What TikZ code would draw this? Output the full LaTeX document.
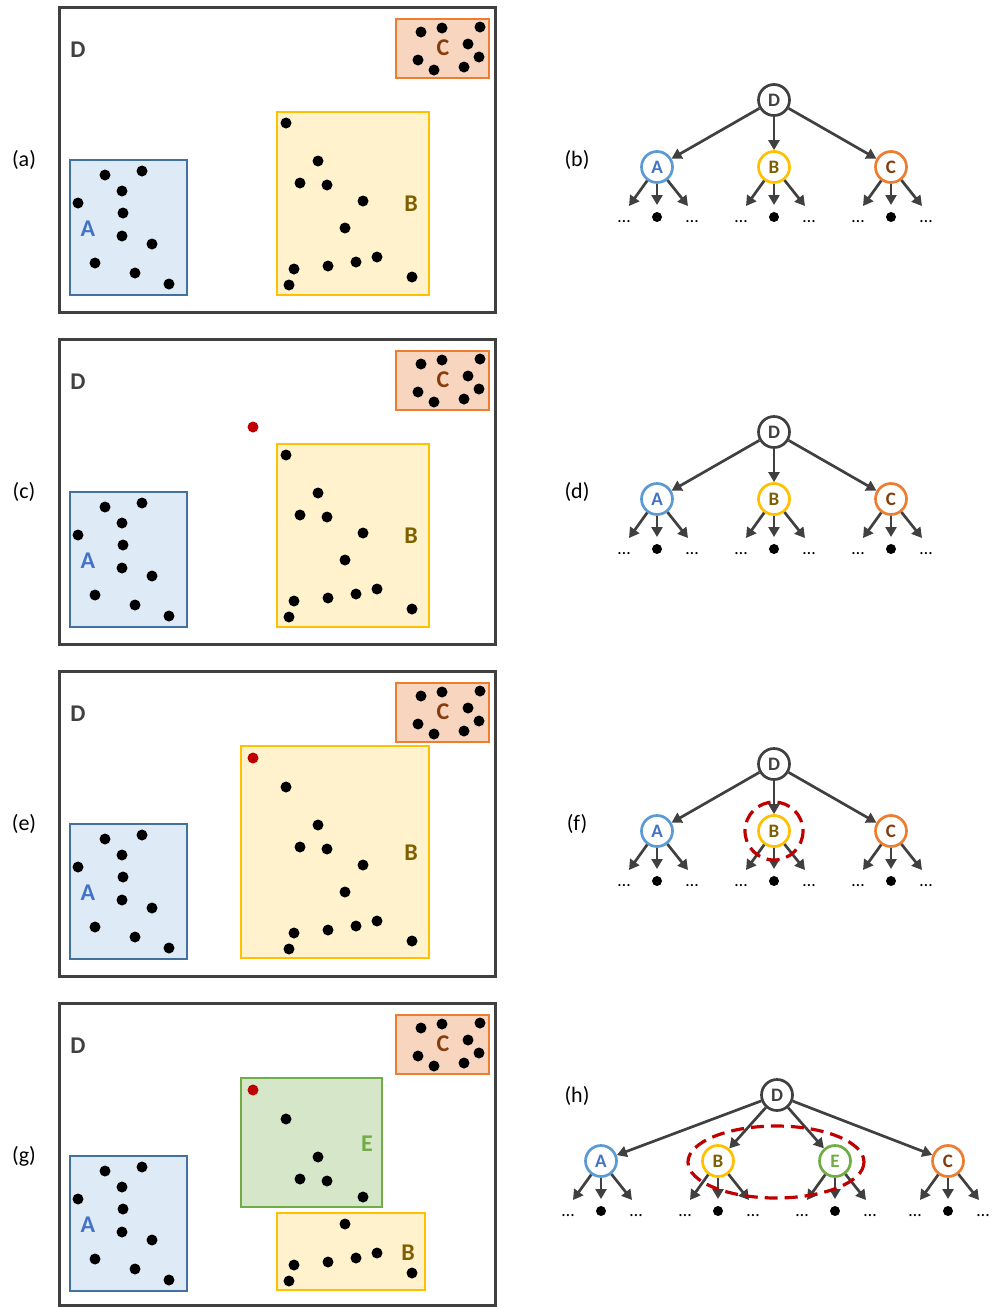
\documentclass[tikz,border=0pt]{standalone}
\usepackage{fontspec}
\setmainfont{Carlito}
\usetikzlibrary{arrows.meta}

\definecolor{frame}{HTML}{404040}
\definecolor{setA}{HTML}{41719C}
\definecolor{fillA}{HTML}{DEEBF7}
\definecolor{textA}{HTML}{4472C4}
\definecolor{ringA}{HTML}{5B9BD5}
\definecolor{setB}{HTML}{FFC000}
\definecolor{fillB}{HTML}{FFF2CC}
\definecolor{textB}{HTML}{7F6000}
\definecolor{setC}{HTML}{ED7D31}
\definecolor{fillC}{HTML}{F8D5BE}
\definecolor{textC}{HTML}{843C0C}
\definecolor{setE}{HTML}{70AD47}
\definecolor{fillE}{HTML}{D5E7C8}
\definecolor{newpt}{HTML}{C00000}

% point clusters
\newcommand{\ptsA}{(105,175),(142,171),(122,191),(78,203),(123,213),(122,236),(152,244),(95,263),(135,273),(169,284)}
\newcommand{\ptsBtop}{(286,123),(318,161),(300,183),(327,185),(363,201)}
\newcommand{\ptsBlow}{(345,228),(377,257),(356,262),(328,266),(294,269),(412,277),(289,285)}
\newcommand{\ptsC}{(421,32),(442,28),(480,27),(468,44),(479,57),(418,60),(434,70),(464,67)}

% frame, D, C and A of one scene; #2 = bottom of the frame
\newcommand{\scene}[2]{%
  \draw[frame] (59,7) rectangle (495,#2);
  \node[setlabel, text=frame] (#1Dl) at (78,50) {D};
  \draw[region=setC/fillC] (396,19) rectangle (489,78);
  \node[setlabel, text=textC] (#1Cl) at (443,48) {C};
  \foreach \p in \ptsC \fill \p circle (5.5);
  \draw[region=setA/fillA] (70,160) rectangle (187,295);
  \node[setlabel, text=textA] (#1Al) at (88,229) {A};
  \foreach \p in \ptsA \fill \p circle (5.5);
}

% three children under a vertex
\newcommand{\leafrow}[1]{%
  \coordinate (#1l) at ([shift={(-28,39)}]#1.center);
  \coordinate (#1m) at ([shift={(0,38)}]#1.center);
  \coordinate (#1r) at ([shift={(31,39)}]#1.center);
  \draw[edge] (#1) -- (#1l);
  \draw[edge] (#1) -- (#1m);
  \draw[edge] (#1) -- (#1r);
  \node[leaf] (#1ld) at ([shift={(-33,55)}]#1.center) {…};
  \node[pt] (#1md) at ([shift={(0,50)}]#1.center) {};
  \node[leaf] (#1rd) at ([shift={(35,55)}]#1.center) {…};
}

\newcommand{\abctree}[1]{%
  \node[vert=frame/frame] (#1D) at (774,100) {D};
  \node[vert=ringA/textA] (#1A) at (657,167) {A};
  \node[vert=setB/textB] (#1B) at (774,167) {B};
  \node[vert=setC/textC] (#1C) at (891,167) {C};
  \foreach \c in {A,B,C} {\draw[edge] (#1D) -- (#1\c); \leafrow{#1\c}}
}

\begin{document}
\begin{tikzpicture}[x=1pt, y=-1pt,
  frame/.style={draw=frame, line width=3pt},
  region/.style args={#1/#2}{draw=#1, fill=#2, line width=2.8pt},
  setlabel/.style={font=\fontsize{24}{28}\selectfont\bfseries, inner sep=0pt},
  tag/.style={font=\fontsize{22}{26}\selectfont, inner sep=0pt},
  vert/.style args={#1/#2}{circle, draw=#1, text=#2, fill=white, line width=2.7pt,
    minimum size=31pt, inner sep=0pt, font=\fontsize{19}{22}\selectfont\bfseries},
  edge/.style={draw=frame, line width=2.7pt, -{Triangle[length=10pt, width=11pt]}},
  leaf/.style={font=\fontsize{18}{20}\selectfont, inner sep=0pt},
  pt/.style={circle, fill=black, minimum size=10pt, inner sep=0pt},
  pick/.style={draw=newpt, line width=3.2pt, dash pattern=on 13pt off 7pt}]

\useasboundingbox (0,0) rectangle (991,1307);

% (a) clusters
\node[tag] (ta) at (24,160) {(a)};
\scene{a}{312}
\draw[region=setB/fillB] (277,112) rectangle (429,295);
\node[setlabel, text=textB] (aBl) at (411,204) {B};
\foreach \p in \ptsBtop \fill \p circle (5.5);
\foreach \p in \ptsBlow \fill \p circle (5.5);

% (b)
\node[tag] (tb) at (577,160) {(b)};
\abctree{b}

% (c) a new point arrives
\begin{scope}[shift={(0,332)}]
  \node[tag] (tc) at (24,160) {(c)};
  \scene{c}{312}
  \draw[region=setB/fillB] (277,112) rectangle (429,295);
  \node[setlabel, text=textB] (cBl) at (411,204) {B};
  \foreach \p in \ptsBtop \fill \p circle (5.5);
  \foreach \p in \ptsBlow \fill \p circle (5.5);
  \fill[newpt] (253,95) circle (5.5);

  \node[tag] (td) at (577,160) {(d)};
  \abctree{d}
\end{scope}

% (e) B grows
\begin{scope}[shift={(0,664)}]
  \node[tag] (te) at (24,160) {(e)};
  \scene{e}{312}
  \draw[region=setB/fillB] (241,82) rectangle (429,294);
  \node[setlabel, text=textB] (eBl) at (411,189) {B};
  \foreach \p in \ptsBtop \fill \p circle (5.5);
  \foreach \p in \ptsBlow \fill \p circle (5.5);
  \fill[newpt] (253,94) circle (5.5);

  \node[tag] (tf) at (577,160) {(f)};
  \abctree{f}
  \draw[pick] (fB) circle (29);
\end{scope}

% (g) B split into B and E
\begin{scope}[shift={(0,996)}]
  \node[tag] (tg) at (24,160) {(g)};
  \scene{g}{309}
  \draw[region=setE/fillE] (241,82) rectangle (382,211);
  \node[setlabel, text=setE] (gEl) at (367,148) {E};
  \foreach \p in \ptsBtop \fill \p circle (5.5);
  \fill[newpt] (253,94) circle (5.5);
  \draw[region=setB/fillB] (277,217) rectangle (425,294);
  \node[setlabel, text=textB] (gBl) at (408,257) {B};
  \foreach \p in \ptsBlow \fill \p circle (5.5);

  \node[tag] (th) at (577,100) {(h)};
  \node[vert=frame/frame] (hD) at (777,99) {D};
  \node[vert=ringA/textA] (hA) at (601,165) {A};
  \node[vert=setB/textB] (hB) at (718,165) {B};
  \node[vert=setE/setE] (hE) at (835,165) {E};
  \node[vert=setC/textC] (hC) at (948,165) {C};
  \foreach \c in {A,B,E,C} {\draw[edge] (hD) -- (h\c); \leafrow{h\c}}
  \draw[pick] (776,166) ellipse (88 and 36);
\end{scope}

\end{tikzpicture}
\end{document}
